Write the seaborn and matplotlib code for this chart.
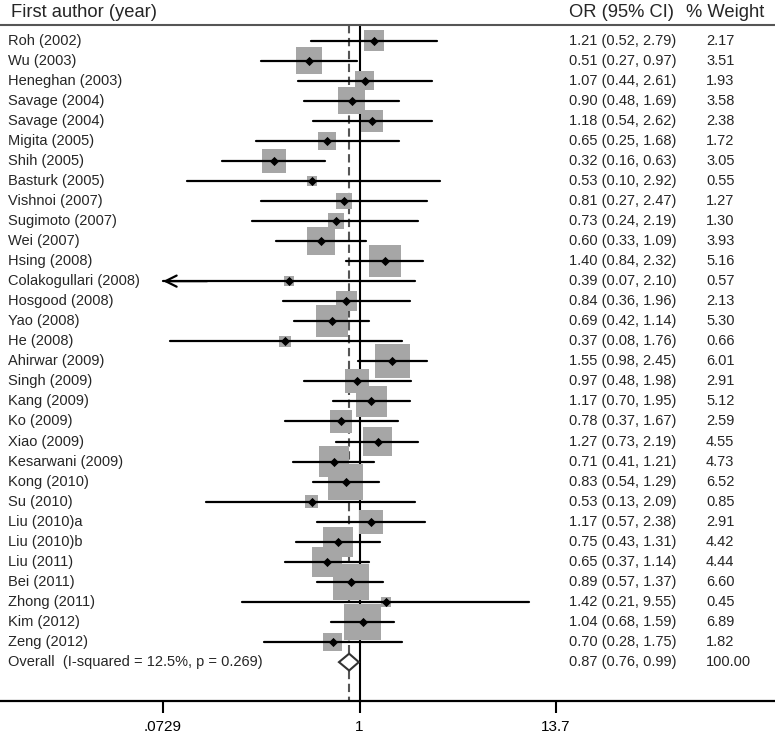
import numpy as np
import pandas as pd
import seaborn as sns
import matplotlib.pyplot as plt

# Study data
studies = ["Roh (2002)", "Wu (2003)", "Heneghan (2003)", "Savage (2004)", "Savage (2004)",
           "Migita (2005)", "Shih (2005)", "Basturk (2005)", "Vishnoi (2007)", "Sugimoto (2007)",
           "Wei (2007)", "Hsing (2008)", "Colakogullari (2008)", "Hosgood (2008)", "Yao (2008)",
           "He (2008)", "Ahirwar (2009)", "Singh (2009)", "Kang (2009)", "Ko (2009)",
           "Xiao (2009)", "Kesarwani (2009)", "Kong (2010)", "Su (2010)", "Liu (2010)a",
           "Liu (2010)b", "Liu (2011)", "Bei (2011)", "Zhong (2011)", "Kim (2012)", "Zeng (2012)"]
odds = [1.21, 0.51, 1.07, 0.90, 1.18, 0.65, 0.32, 0.53, 0.81, 0.73, 0.60, 1.40, 0.39, 0.84, 0.69,
        0.37, 1.55, 0.97, 1.17, 0.78, 1.27, 0.71, 0.83, 0.53, 1.17, 0.75, 0.65, 0.89, 1.42, 1.04, 0.70]
lower = [0.52, 0.27, 0.44, 0.48, 0.54, 0.25, 0.16, 0.10, 0.27, 0.24, 0.33, 0.84, 0.07, 0.36, 0.42,
         0.08, 0.98, 0.48, 0.70, 0.37, 0.73, 0.41, 0.54, 0.13, 0.57, 0.43, 0.37, 0.57, 0.21, 0.68, 0.28]
upper = [2.79, 0.97, 2.61, 1.69, 2.62, 1.68, 0.63, 2.92, 2.47, 2.19, 1.09, 2.32, 2.10, 1.96, 1.14,
         1.76, 2.45, 1.98, 1.95, 1.67, 2.19, 1.21, 1.29, 2.09, 2.38, 1.31, 1.14, 1.37, 9.55, 1.59, 1.75]
weights = [2.17, 3.51, 1.93, 3.58, 2.38, 1.72, 3.05, 0.55, 1.27, 1.30, 3.93, 5.16, 0.57, 2.13, 5.30,
           0.66, 6.01, 2.91, 5.12, 2.59, 4.55, 4.73, 6.52, 0.85, 2.91, 4.42, 4.44, 6.60, 0.45, 6.89, 1.82]

overall_label = "Overall  (I-squared = 12.5%, p = 0.269)"
overall_or, overall_lo, overall_hi = 0.87, 0.76, 0.99
overall_weight = "100.00"

tick_vals = [0.0729, 1, 13.7]
tick_labels = [".0729", "1", "13.7"]

df = pd.DataFrame({"study": studies, "or": odds, "lo": lower, "hi": upper, "w": weights})
df["row"] = np.arange(len(df))

sns.set_theme(style="white")
plt.rcParams["font.family"] = ["Liberation Sans", "DejaVu Sans"]

fig = plt.figure(figsize=(7.75, 7.36), dpi=100)
ax = fig.add_axes([0, 35 / 736, 1, 701 / 736])
ax.set_xscale("log")
ax.set_xlim(np.exp(-4.791), np.exp(5.535))
ax.set_ylim(32.94, -2.02)

xmin_plot = tick_vals[0]
top_line = -0.77
n = len(df)
y_overall = n

# reference lines
ax.plot([1, 1], [top_line, 32.94], color="black", lw=1.5, zorder=1)
ax.plot([overall_or, overall_or], [top_line, 32.94], color="#555555", lw=1.5,
        linestyle=(0, (4, 2.2)), zorder=1)

# header line
ax.axhline(top_line, color="#555555", lw=1.5, zorder=1)

# weight boxes, area proportional to weight
wmin, wmax = min(weights), max(weights)
k = 101.6
sns.scatterplot(data=df, x="or", y="row", size="w", sizes=(k * wmin, k * wmax),
                size_norm=(wmin, wmax), marker="s", color="#a6a6a6", linewidth=0,
                legend=False, ax=ax, zorder=2)

# confidence intervals
for _, r in df.iterrows():
    lo = max(r["lo"], xmin_plot)
    ax.plot([lo, r["hi"]], [r["row"], r["row"]], color="black", lw=1.6, zorder=3)
    if r["lo"] < xmin_plot:
        ax.annotate("", xy=(xmin_plot, r["row"]), xytext=(xmin_plot * 1.8, r["row"]),
                    arrowprops=dict(arrowstyle="->", lw=1.6, color="black",
                                    mutation_scale=20, shrinkA=0, shrinkB=0), zorder=3)

sns.scatterplot(data=df, x="or", y="row", marker="D", color="black", s=22,
                linewidth=0, legend=False, ax=ax, zorder=4)

# overall diamond
ax.fill([overall_lo, overall_or, overall_hi, overall_or],
        [y_overall, y_overall - 0.42, y_overall, y_overall + 0.42],
        facecolor="white", edgecolor="#333333", lw=1.5, zorder=3)

# text columns
tr = ax.get_yaxis_transform()
fs = 10.5
hfs = 13.2
ax.text(11 / 775, -1.42, "First author (year)", transform=tr, fontsize=hfs, va="center")
ax.text(569 / 775, -1.42, "OR (95% CI)", transform=tr, fontsize=hfs, va="center")
ax.text(686 / 775, -1.42, "% Weight", transform=tr, fontsize=hfs, va="center")

for _, r in df.iterrows():
    y = r["row"]
    ax.text(8 / 775, y, r["study"], transform=tr, fontsize=fs, va="center")
    ax.text(569 / 775, y, f"{r['or']:.2f} ({r['lo']:.2f}, {r['hi']:.2f})",
            transform=tr, fontsize=fs, va="center")
    ax.text(706 / 775, y, f"{r['w']:.2f}", transform=tr, fontsize=fs, va="center")

ax.text(8 / 775, y_overall, overall_label, transform=tr, fontsize=fs, va="center")
ax.text(569 / 775, y_overall, f"{overall_or:.2f} ({overall_lo:.2f}, {overall_hi:.2f})",
        transform=tr, fontsize=fs, va="center")
ax.text(706 / 775, y_overall, overall_weight, transform=tr, fontsize=fs, va="center")

# axes styling
for side in ["left", "right", "top"]:
    ax.spines[side].set_visible(False)
ax.spines["bottom"].set_color("black")
ax.spines["bottom"].set_linewidth(1.6)
ax.set_yticks([])
ax.set_xticks(tick_vals)
ax.set_xticklabels(tick_labels)
ax.minorticks_off()
ax.tick_params(axis="x", which="major", bottom=True, length=8.6, width=1.5,
               color="black", pad=5, labelsize=11, labelcolor="black")
ax.set_xlabel("")
ax.set_ylabel("")

fig.savefig("out.png", dpi=100)
